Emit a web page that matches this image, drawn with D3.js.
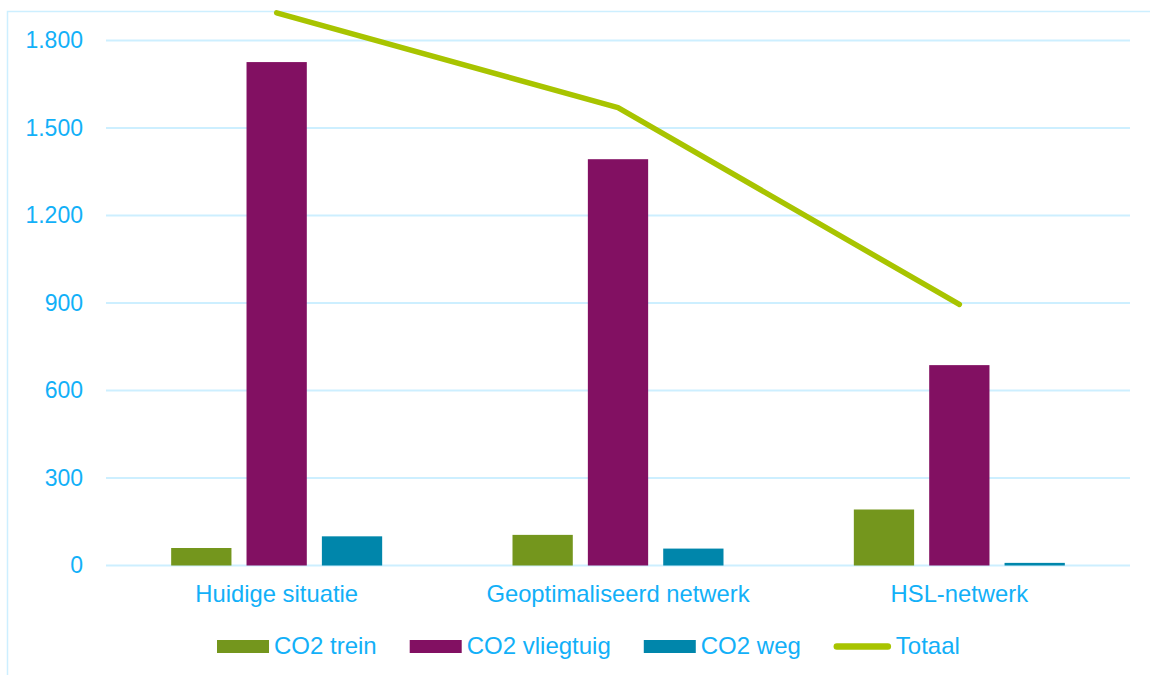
<!DOCTYPE html>
<html>
<head>
<meta charset="utf-8">
<script src="https://cdn.jsdelivr.net/npm/d3@7"></script>
<style>
  html, body { margin: 0; padding: 0; background: #ffffff; }
  svg { display: block; }
  text { font-family: "Liberation Sans", Arial, sans-serif; }
</style>
</head>
<body>
<svg id="chart" width="1150" height="675"></svg>
<script>
const categories = ["Huidige situatie", "Geoptimaliseerd netwerk", "HSL-netwerk"];
const seriesNames = ["CO2 trein", "CO2 vliegtuig", "CO2 weg"];
const co2Trein = [60, 105, 192];
const co2Vliegtuig = [1726, 1393, 687];
const co2Weg = [100, 58, 9];
const totaal = [1895, 1570, 895];
const yTicks = [0, 300, 600, 900, 1200, 1500, 1800];
const lineName = "Totaal";

const barColors = ["#74961D", "#821062", "#0086AB"];
const lineColor = "#A8C400";
const textColor = "#12B0F8";
const gridColor = "#CDEFFF";

const svg = d3.select("#chart");

// frame
svg.append("path")
  .attr("d", "M7.5,675 L7.5,11.5 L1150,11.5")
  .attr("fill", "none")
  .attr("stroke", gridColor)
  .attr("stroke-width", 1.5);

const x = d3.scaleBand().domain(categories).range([106, 1130]).paddingInner(0).paddingOuter(0);
const y = d3.scaleLinear().domain([0, 1800]).range([565.5, 40.5]);

const groupW = 211;
const xs = d3.scaleBand().domain(seriesNames).range([0, groupW]).paddingInner(0.2).paddingOuter(0);

// gridlines
svg.append("g").selectAll("line").data(yTicks).join("line")
  .attr("x1", 106).attr("x2", 1130)
  .attr("y1", d => y(d)).attr("y2", d => y(d))
  .attr("stroke", gridColor).attr("stroke-width", 2);

// y axis labels
const yAxis = d3.axisLeft(y).tickValues(yTicks).tickSize(0).tickPadding(0)
  .tickFormat(d => d3.format(",")(d).replace(/,/g, "."));
const yg = svg.append("g").attr("transform", "translate(83,0)").call(yAxis);
yg.select(".domain").remove();
yg.selectAll("text").attr("fill", textColor).style("font-size", "23px")
  .style("font-family", '"Liberation Sans", Arial, sans-serif');

// bars
const seriesValues = [co2Trein, co2Vliegtuig, co2Weg];
const barData = [];
categories.forEach((c, i) => {
  seriesNames.forEach((s, j) => {
    barData.push({ c, s, j, v: seriesValues[j][i] });
  });
});
svg.append("g").selectAll("rect").data(barData).join("rect")
  .attr("x", d => x(d.c) + (x.bandwidth() - groupW) / 2 + xs(d.s))
  .attr("width", xs.bandwidth())
  .attr("y", d => y(d.v))
  .attr("height", d => y(0) - y(d.v))
  .attr("fill", d => barColors[d.j]);

// x axis labels
const xAxis = d3.axisBottom(x).tickSize(0).tickPadding(0);
const xg = svg.append("g").attr("transform", "translate(0,585)").call(xAxis);
xg.select(".domain").remove();
xg.selectAll("text").attr("fill", textColor).style("font-size", "23.8px")
  .style("font-family", '"Liberation Sans", Arial, sans-serif');

// total line
const line = d3.line().x((d, i) => x(categories[i]) + x.bandwidth() / 2).y(d => y(d));
svg.append("path").datum(totaal)
  .attr("d", line)
  .attr("fill", "none")
  .attr("stroke", lineColor)
  .attr("stroke-width", 5.5)
  .attr("stroke-linecap", "round")
  .attr("stroke-linejoin", "round");

// legend
const legend = svg.append("g");
let lx = 217;
const ly = 646.5;
const items = seriesNames.map((s, j) => ({ name: s, type: "rect", color: barColors[j] }))
  .concat([{ name: lineName, type: "line", color: lineColor }]);
items.forEach(it => {
  let tx;
  if (it.type === "rect") {
    legend.append("rect").attr("x", lx).attr("y", ly - 6.5).attr("width", 52).attr("height", 13).attr("fill", it.color);
    tx = lx + 57;
  } else {
    legend.append("line").attr("x1", lx + 3).attr("x2", lx + 54).attr("y1", ly).attr("y2", ly)
      .attr("stroke", it.color).attr("stroke-width", 6.5).attr("stroke-linecap", "round");
    tx = lx + 62;
  }
  const t = legend.append("text").attr("x", tx).attr("y", ly + 7.5)
    .attr("fill", textColor).style("font-size", "24px").text(it.name);
  const w = t.node().getComputedTextLength();
  lx = tx + w + 33;
});
</script>
</body>
</html>
